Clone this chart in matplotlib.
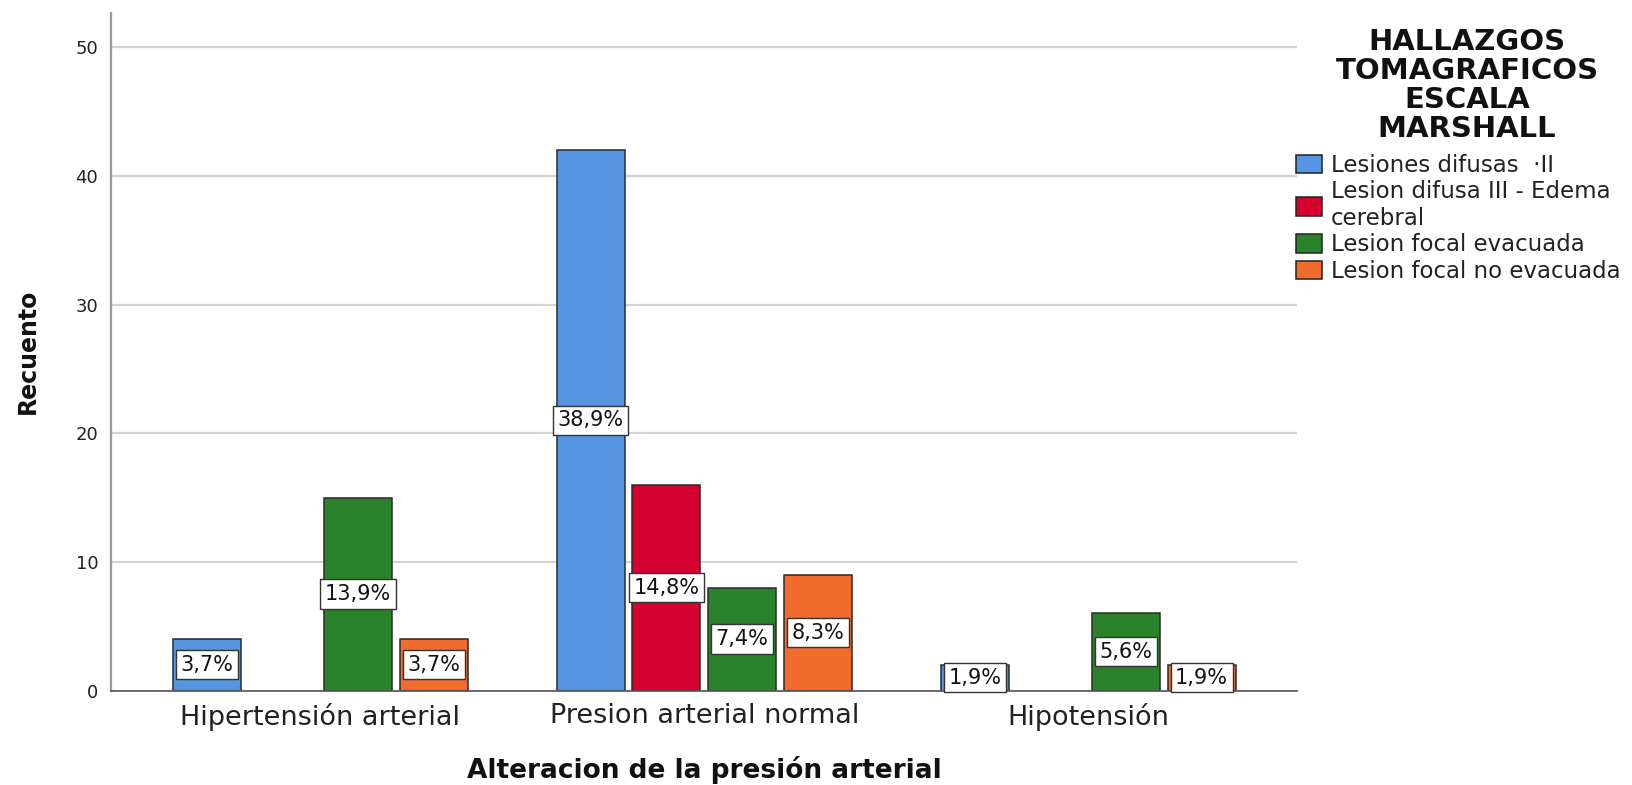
import matplotlib
matplotlib.use("Agg")
import matplotlib.pyplot as plt
from matplotlib.patches import Patch
import numpy as np

plt.rcParams["font.family"] = ["DejaVu Sans"]

# Data: counts of CT findings (Marshall scale) by blood-pressure status
groups = ["Hipertensión arterial", "Presion arterial normal", "Hipotensión"]
series = [
    "Lesiones difusas  \u00b7II",
    "Lesion difusa III - Edema\ncerebral",
    "Lesion focal evacuada",
    "Lesion focal no evacuada",
]
lesiones_difusas_ii = [4, 42, 2]
lesion_difusa_iii = [0, 16, 0]
lesion_focal_evacuada = [15, 8, 6]
lesion_focal_no_evacuada = [4, 9, 2]
counts = [lesiones_difusas_ii, lesion_difusa_iii,
          lesion_focal_evacuada, lesion_focal_no_evacuada]
colors = ["#5595E2", "#D5002F", "#2A832A", "#F06B2C"]
yticks = [0, 10, 20, 30, 40, 50]

total = sum(sum(s) for s in counts)

W, H = 1633, 785
fig = plt.figure(figsize=(W / 100, H / 100), dpi=100)
ax = fig.add_axes([111.5 / W, 1 - 690.5 / H, (1297 - 111.5) / W, (690.5 - 12.5) / H])

x = np.arange(len(groups))
bar_w = 0.177
pitch = 0.197
offsets = (np.arange(len(series)) - (len(series) - 1) / 2) * pitch

for i, (vals, col) in enumerate(zip(counts, colors)):
    for gx, v in zip(x, vals):
        if v <= 0:
            continue
        ax.bar(gx + offsets[i], v, width=bar_w, color=col,
               edgecolor="#2b2b2b", linewidth=1.1, zorder=3)
        pct = f"{100 * v / total:.1f}%".replace(".", ",")
        ax.text(gx + offsets[i], v / 2, pct, ha="center", va="center",
                fontsize=15, color="#111111", zorder=5,
                bbox=dict(boxstyle="square,pad=0.22", fc="white",
                          ec="#333333", lw=1.0))

ax.set_xlim(-0.544, 2.544)
ax.set_ylim(0, 52.7)
ax.set_yticks(yticks)
ax.set_xticks(x)
ax.set_xticklabels(groups, fontsize=19.5, color="#222222")
ax.tick_params(axis="x", length=0, pad=9)
ax.tick_params(axis="y", length=0, pad=9.5, labelsize=13, labelcolor="#222222")

ax.yaxis.grid(True, color="#d4d4d4", linewidth=1.6, zorder=0)
ax.set_axisbelow(True)
for s in ("top", "right"):
    ax.spines[s].set_visible(False)
ax.spines["left"].set_color("#9a9a9a")
ax.spines["left"].set_linewidth(1.6)
ax.spines["bottom"].set_color("#555555")
ax.spines["bottom"].set_linewidth(1.2)
ax.spines["bottom"].set_zorder(4)

ax.set_xlabel("Alteracion de la presión arterial", fontsize=19,
              fontweight="bold", color="#111111")
ax.xaxis.set_label_coords(0.5, -(778 - 690.5) / (690.5 - 12.5))
ax.xaxis.label.set_va("baseline")

ax.set_ylabel("Recuento", fontsize=17, fontweight="bold", color="#111111")
ax.yaxis.set_label_coords(-(111.5 - 28) / (1297 - 111.5), 0.5)
ax.yaxis.label.set_va("center")

# Legend title and entries
fig.text(1467 / W, 1 - 28 / H, "HALLAZGOS\nTOMAGRAFICOS\nESCALA\nMARSHALL",
         ha="center", va="top", fontsize=21, fontweight="bold",
         color="#111111", linespacing=1.04)

handles = [Patch(facecolor=c, edgecolor="#222222", linewidth=1.1) for c in colors]
leg = fig.legend(handles, series, loc="upper left",
                 bbox_to_anchor=(1296 / W, 1 - 154 / H),
                 frameon=False, fontsize=16.5, borderpad=0, borderaxespad=0,
                 handlelength=1.13, handleheight=0.87, handletextpad=0.4,
                 labelspacing=0.15)
for t in leg.get_texts():
    t.set_color("#222222")

fig.savefig("out.png", dpi=100)
